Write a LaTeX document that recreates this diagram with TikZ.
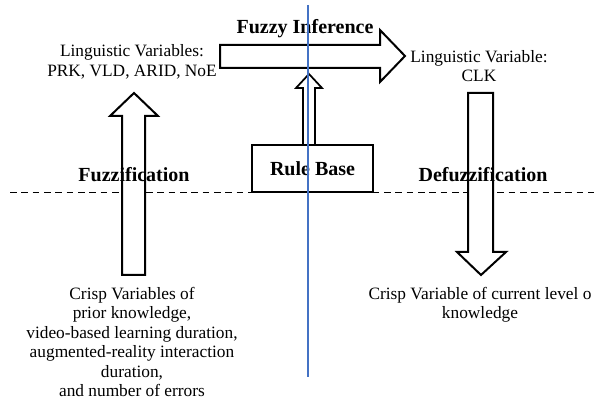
\documentclass[tikz,border=0pt]{standalone}
\usepackage{fontspec}
\setmainfont{Liberation Serif}
\usepackage{xcolor}
\usepackage{tikz}
\usetikzlibrary{positioning}
\definecolor{splitblue}{RGB}{68,114,196}
\tikzstyle{blockarrow} = [line width=1.5pt, line join=miter, fill=white]
\tikzstyle{varlabel} = [align=center, inner sep=0pt, font=\fontsize{13}{14.6}\selectfont]
\tikzstyle{stage} = [inner sep=0pt, font=\fontsize{15}{17}\selectfont\bfseries]

\begin{document}
\begin{tikzpicture}[x=0.75pt, y=-0.75pt]
	\useasboundingbox (0,0) rectangle (594,403);
	% Dashed border between crisp and fuzzy world:
	\draw [dashed, dash pattern=on 5pt off 3.5pt, line width=0.6pt] (10,192) -- (594,192);

	% Rule base in the middle:
	\node [draw, line width=1.5pt, minimum width=90.75pt, minimum height=35.25pt, stage] (rule) at (312.5,168.5) {Rule Base};

	% Block arrows:
	% Are simply drawn as closed paths, filled white so the text stays below them
	\draw [blockarrow] (122,275) -- (122,116) -- (110,116) -- (134,93) -- (158,116) -- (145,116) -- (145,275) -- cycle;
	\draw [blockarrow] (468,93) -- (468,252) -- (457,252) -- (481,275) -- (506,252) -- (493,252) -- (493,93) -- cycle;
	\draw [blockarrow] (220,45) -- (380,45) -- (380,30) -- (405,56) -- (380,82) -- (380,68) -- (220,68) -- cycle;
	\draw [blockarrow, line width=1.3pt] (rule.north -| 303,0) -- (303,88) -- (296,88) -- (309,74) -- (322,88) -- (315,88) -- (rule.north -| 315,0);

	% Texts:
	\node [stage] (inference) at (305,29) {Fuzzy Inference};
	\node [stage] (fuzz) at (134,175) {Fuzzification};
	\node [stage] (defuzz) at (483,175) {Defuzzification};
	\node [varlabel] (lingin) at (132,62) {Linguistic Variables:\\PRK, VLD, ARID, NoE};
	\node [varlabel] (lingout) at (479,66) {Linguistic Variable:\\CLK};
	\node [varlabel, anchor=north] (crispin) at (132,287) {Crisp Variables of\\prior knowledge,\\video-based learning duration,\\augmented-reality interaction\\duration,\\and number of errors};
	\node [varlabel, anchor=north] (crispout) at (480,287) {Crisp Variable of current level o\\knowledge};

	% The blue line is put on top of everything:
	\draw [splitblue, line width=0.8pt] (308,5) -- (308,377);
\end{tikzpicture}
\end{document}
